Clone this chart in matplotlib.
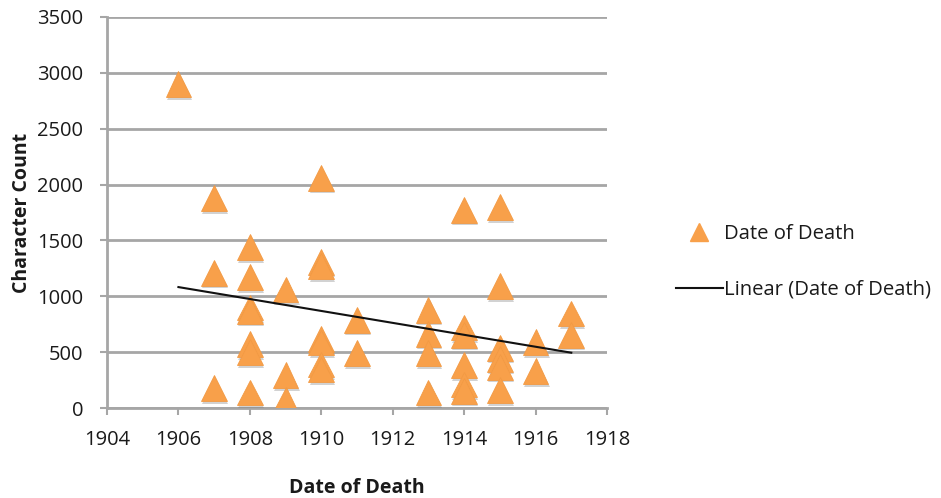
import numpy as np
import matplotlib
matplotlib.use("Agg")
import matplotlib.pyplot as plt
import matplotlib.patheffects as pe
from matplotlib.lines import Line2D

plt.rcParams['font.family'] = ['Open Sans', 'DejaVu Sans']

years = [1906,
         1907, 1907, 1907,
         1908, 1908, 1908, 1908, 1908, 1908, 1908,
         1909, 1909, 1909,
         1910, 1910, 1910, 1910, 1910, 1910, 1910,
         1911, 1911,
         1913, 1913, 1913, 1913,
         1914, 1914, 1914, 1914, 1914, 1914,
         1915, 1915, 1915, 1915, 1915, 1915,
         1916, 1916,
         1917, 1917]
counts = [2900,
          1880, 1210, 180,
          1440, 1170, 900, 870, 570, 500, 140,
          1060, 295, 75,
          2060, 1310, 1270, 615, 585, 390, 345,
          790, 490,
          880, 665, 490, 140,
          1775, 720, 655, 385, 210, 155,
          1800, 1090, 540, 440, 370, 160,
          590, 330,
          845, 655]

x_ticks = [1904, 1906, 1908, 1910, 1912, 1914, 1916, 1918]
y_ticks = [0, 500, 1000, 1500, 2000, 2500, 3000, 3500]

series_label = "Date of Death"
trend_label = "Linear (Date of Death)"
x_label = "Date of Death"
y_label = "Character Count"

orange = '#F8A04A'
grid_c = '#A6A6A6'
text_c = '#1a1a1a'

fig = plt.figure(figsize=(9.41, 4.98), dpi=100)
ax = fig.add_axes([107/941, 1-408/498, 500/941, 391/498])

x = np.array(years, dtype=float)
y = np.array(counts, dtype=float)

ax.plot(x, y, linestyle='none', marker='^', markersize=18.5,
        color=orange, markeredgecolor='#F29A44', markeredgewidth=0.6,
        zorder=3,
        path_effects=[pe.SimplePatchShadow(offset=(0.8, -2.0), shadow_rgbFace='#808080', alpha=0.35),
                      pe.Normal()])

coef = np.polyfit(x, y, 1)
xl = np.array([x.min(), x.max()])
ax.plot(xl, np.polyval(coef, xl), color='#111111', linewidth=1.5, zorder=4)

ax.set_xlim(1904, 1918)
ax.set_ylim(0, 3500)
ax.set_xticks(x_ticks)
ax.set_yticks(y_ticks)
ax.yaxis.grid(True, color=grid_c, linewidth=2)
ax.set_axisbelow(True)
for s in ['top', 'right']:
    ax.spines[s].set_visible(False)
for s in ['left', 'bottom']:
    ax.spines[s].set_color(grid_c)
    ax.spines[s].set_linewidth(2)
ax.tick_params(axis='both', colors=grid_c, labelcolor=text_c, labelsize=14.5,
               length=5, width=1.5, direction='out')
ax.tick_params(axis='x', pad=11)
ax.tick_params(axis='y', pad=12)

ax.set_xlabel(x_label, fontsize=14, fontweight='bold', color=text_c, labelpad=20)
ax.set_ylabel(y_label, fontsize=14, fontweight='bold', color=text_c, labelpad=4)

handles = [Line2D([], [], linestyle='none', marker='^', markersize=13, color=orange),
           Line2D([], [], color='#111111', linewidth=1.5)]
fig.legend(handles, [series_label, trend_label], loc='center left',
           bbox_to_anchor=(668/941, 1-262/498), frameon=False,
           fontsize=14.6, labelcolor=text_c, handlelength=2.3, handletextpad=0.05,
           labelspacing=1.75, borderaxespad=0)

fig.savefig('out.png', dpi=100)
